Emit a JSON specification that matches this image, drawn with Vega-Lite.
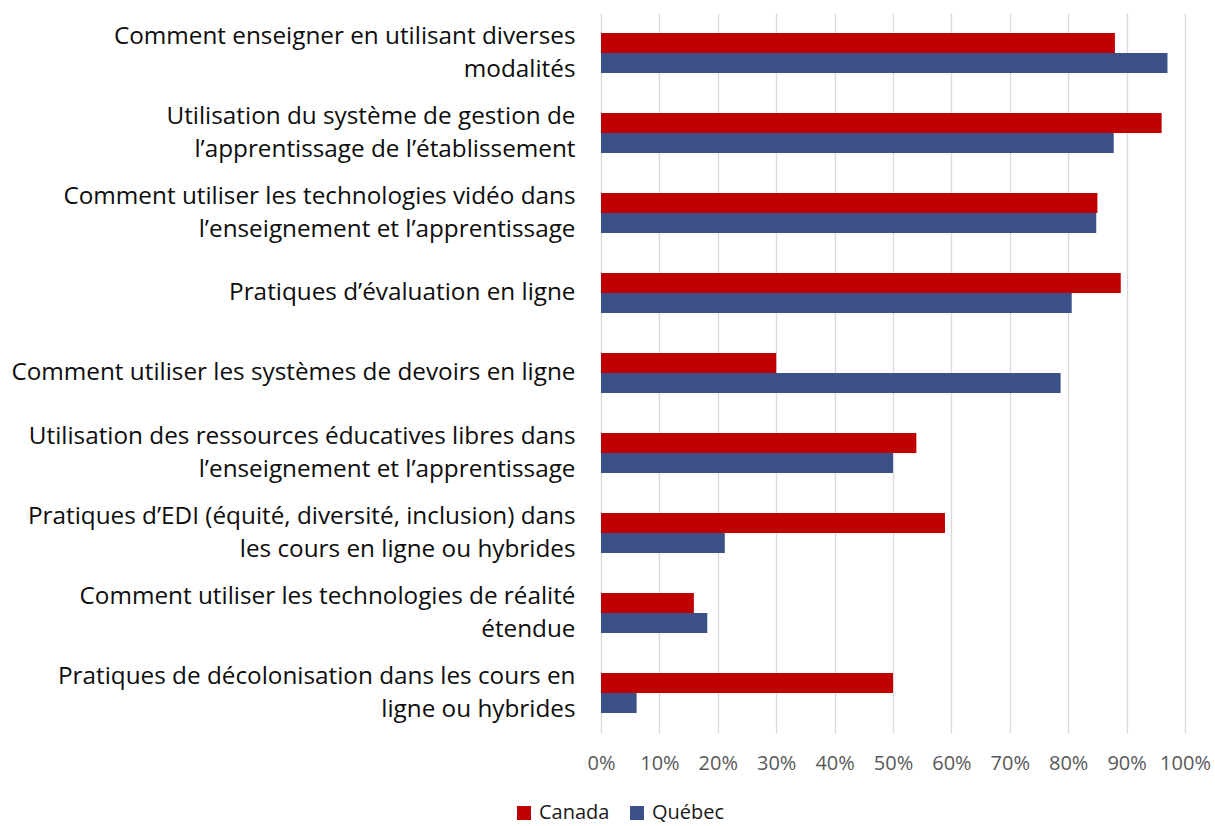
{
  "$schema": "https://vega.github.io/schema/vega-lite/v6.json",
  "autosize": {"type": "none"},
  "width": 584,
  "height": 720,
  "padding": {"left": 601, "top": 13, "right": 30, "bottom": 93},
  "background": "white",
  "config": {
    "view": {"stroke": null},
    "font": "Open Sans"
  },
  "data": {
    "values": [
      {"cat": "Comment enseigner en utilisant diverses|modalités", "serie": "Canada", "v": 0.88},
      {"cat": "Comment enseigner en utilisant diverses|modalités", "serie": "Québec", "v": 0.97},
      {"cat": "Utilisation du système de gestion de|l’apprentissage de l’établissement", "serie": "Canada", "v": 0.96},
      {"cat": "Utilisation du système de gestion de|l’apprentissage de l’établissement", "serie": "Québec", "v": 0.878},
      {"cat": "Comment utiliser les technologies vidéo dans|l’enseignement et l’apprentissage", "serie": "Canada", "v": 0.85},
      {"cat": "Comment utiliser les technologies vidéo dans|l’enseignement et l’apprentissage", "serie": "Québec", "v": 0.848},
      {"cat": "Pratiques d’évaluation en ligne", "serie": "Canada", "v": 0.89},
      {"cat": "Pratiques d’évaluation en ligne", "serie": "Québec", "v": 0.806},
      {"cat": "Comment utiliser les systèmes de devoirs en ligne", "serie": "Canada", "v": 0.30},
      {"cat": "Comment utiliser les systèmes de devoirs en ligne", "serie": "Québec", "v": 0.787},
      {"cat": "Utilisation des ressources éducatives libres dans|l’enseignement et l’apprentissage", "serie": "Canada", "v": 0.54},
      {"cat": "Utilisation des ressources éducatives libres dans|l’enseignement et l’apprentissage", "serie": "Québec", "v": 0.50},
      {"cat": "Pratiques d’EDI (équité, diversité, inclusion) dans|les cours en ligne ou hybrides", "serie": "Canada", "v": 0.589},
      {"cat": "Pratiques d’EDI (équité, diversité, inclusion) dans|les cours en ligne ou hybrides", "serie": "Québec", "v": 0.212},
      {"cat": "Comment utiliser les technologies de réalité|étendue", "serie": "Canada", "v": 0.159},
      {"cat": "Comment utiliser les technologies de réalité|étendue", "serie": "Québec", "v": 0.182},
      {"cat": "Pratiques de décolonisation dans les cours en|ligne ou hybrides", "serie": "Canada", "v": 0.50},
      {"cat": "Pratiques de décolonisation dans les cours en|ligne ou hybrides", "serie": "Québec", "v": 0.061}
    ]
  },
  "mark": {"type": "bar"},
  "encoding": {
    "y": {
      "field": "cat",
      "type": "nominal",
      "sort": null,
      "scale": {"paddingInner": 0.5, "paddingOuter": 0.25},
      "axis": {
        "title": null,
        "domain": false,
        "ticks": false,
        "labelExpr": "split(datum.label, '|')",
        "labelFontSize": 24.3,
        "labelColor": "#0D0D0D",
        "labelPadding": 26,
        "labelLimit": 620,
        "labelLineHeight": 33,
        "labelAlign": "right",
        "labelBaseline": "middle",
        "labelOffset": {"condition": {"test": "indexof(datum.value, '|') >= 0", "value": -16.5}, "value": 0}
      }
    },
    "yOffset": {"field": "serie", "type": "nominal", "sort": ["Canada", "Québec"]},
    "x": {
      "field": "v",
      "type": "quantitative",
      "scale": {"domain": [0, 1], "nice": false},
      "axis": {
        "title": null,
        "values": [0, 0.1, 0.2, 0.3, 0.4, 0.5, 0.6, 0.7, 0.8, 0.9, 1],
        "format": ".0%",
        "domain": false,
        "ticks": false,
        "grid": true,
        "gridColor": "#D9D9D9",
        "gridWidth": 1.3,
        "labelFontSize": 20,
        "labelColor": "#595959",
        "labelPadding": 20,
        "labelFlush": false
      }
    },
    "color": {
      "field": "serie",
      "type": "nominal",
      "scale": {"domain": ["Canada", "Québec"], "range": ["#C00000", "#3A5087"]},
      "legend": {
        "title": null,
        "orient": "none",
        "direction": "horizontal",
        "legendX": -87,
        "legendY": 790,
        "symbolType": "square",
        "symbolSize": 196,
        "symbolStrokeWidth": 0,
        "labelFontSize": 20,
        "labelColor": "#1A1A1A",
        "labelOffset": 5,
        "columnPadding": 17
      }
    }
  }
}
